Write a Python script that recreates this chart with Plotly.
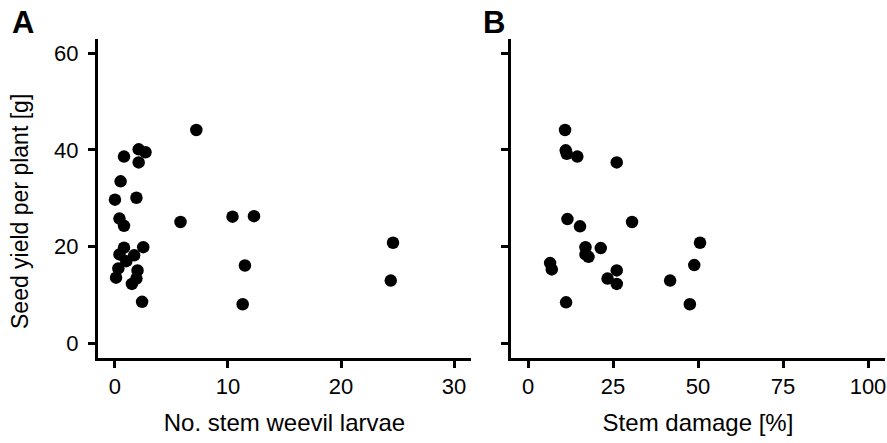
import plotly.graph_objects as go

# Panel A: number of stem weevil larvae vs seed yield per plant
larvae = [7.2, 2.1, 2.7, 0.8, 2.1, 0.5, 0.0, 1.9, 0.4, 0.8, 5.8, 0.8, 2.5, 0.4,
          1.7, 1.0, 0.3, 2.0, 0.1, 1.9, 1.5, 2.4, 10.4, 12.3, 11.5, 11.3, 24.6, 24.4]
yield_a = [44.1, 40.1, 39.5, 38.6, 37.4, 33.5, 29.7, 30.1, 25.8, 24.3, 25.1, 19.8, 19.9, 18.4,
           18.2, 17.0, 15.5, 15.1, 13.6, 13.4, 12.3, 8.6, 26.2, 26.3, 16.1, 8.1, 20.8, 13.0]

# Panel B: stem damage [%] vs seed yield per plant
damage = [10.9, 11.1, 11.4, 14.5, 26.1, 11.6, 15.3, 30.6, 16.9, 21.4, 16.9, 17.8,
          6.5, 7.0, 26.1, 23.4, 26.1, 41.8, 11.2, 47.6, 50.6, 48.9]
yield_b = [44.1, 39.9, 39.2, 38.6, 37.4, 25.7, 24.2, 25.1, 19.9, 19.7, 18.4, 17.9,
           16.6, 15.3, 15.1, 13.4, 12.3, 13.0, 8.5, 8.1, 20.8, 16.2]

xticks_a = [0, 10, 20, 30]
xticks_b = [0, 25, 50, 75, 100]
yticks = [0, 20, 40, 60]

FONT = "Liberation Sans, Arial, sans-serif"
W, H = 887, 443

fig = go.Figure()
mk = dict(color="black", size=12.5, line=dict(width=0))
fig.add_trace(go.Scatter(x=larvae, y=yield_a, mode="markers", marker=mk,
                         xaxis="x", yaxis="y", showlegend=False))
fig.add_trace(go.Scatter(x=damage, y=yield_b, mode="markers", marker=mk,
                         xaxis="x2", yaxis="y2", showlegend=False))

ydom = [1 - 358 / H, 1 - 38.5 / H]
axis_common = dict(showgrid=False, zeroline=False, showline=True, linecolor="black",
                   linewidth=3, ticks="outside", ticklen=7, tickwidth=2.5,
                   tickcolor="black")
tickfont = dict(family=FONT, size=22, color="black")

fig.update_layout(
    width=W, height=H,
    margin=dict(l=0, r=0, t=0, b=0),
    paper_bgcolor="white", plot_bgcolor="white",
    font=dict(family=FONT, color="black"),
    xaxis=dict(domain=[98 / W, 471 / W], range=[-1.5, 31.5], tickvals=xticks_a,
               anchor="y", tickfont=tickfont,
               title=dict(text="No. stem weevil larvae", font=dict(family=FONT, size=24),
                          standoff=16),
               **axis_common),
    yaxis=dict(domain=ydom, range=[-3, 63], tickvals=yticks, anchor="x",
               tickfont=tickfont, ticklabelstandoff=5,
               **axis_common),
    xaxis2=dict(domain=[511 / W, 885 / W], range=[-5, 105], tickvals=xticks_b,
                anchor="y2", tickfont=tickfont,
                title=dict(text="Stem damage [%]", font=dict(family=FONT, size=24),
                           standoff=16),
                **axis_common),
    yaxis2=dict(domain=ydom, range=[-3, 63], tickvals=yticks, anchor="x2",
                showticklabels=False, **axis_common),
    annotations=[
        dict(text="Seed yield per plant [g]", textangle=-90,
             x=20 / W, y=1 - 212 / H, xref="paper", yref="paper",
             xanchor="center", yanchor="middle", showarrow=False,
             font=dict(family=FONT, size=23, color="black")),
        dict(text="<b>A</b>", x=10 / W, y=1 - 3 / H, xref="paper", yref="paper",
             xanchor="left", yanchor="top", showarrow=False,
             font=dict(family=FONT, size=31, color="black")),
        dict(text="<b>B</b>", x=481 / W, y=1 - 3 / H, xref="paper", yref="paper",
             xanchor="left", yanchor="top", showarrow=False,
             font=dict(family=FONT, size=31, color="black")),
    ],
)

fig.write_html("out.html")
